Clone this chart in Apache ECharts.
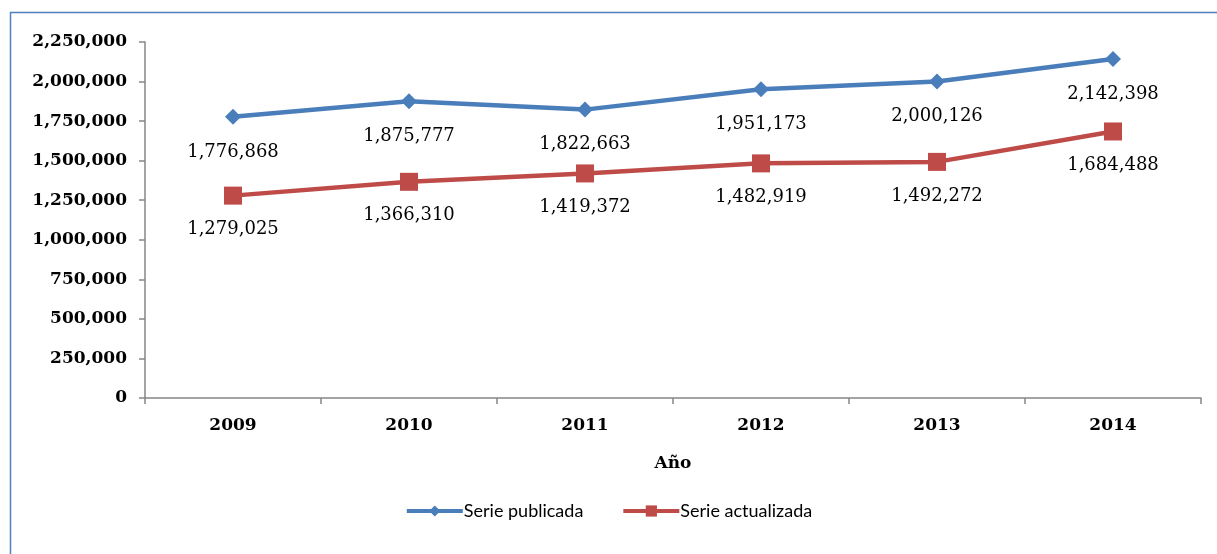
<!DOCTYPE html>
<html>
<head>
<meta charset="utf-8">
<script src="https://cdn.jsdelivr.net/npm/echarts@6/dist/echarts.min.js"></script>
<style>
html,body{margin:0;padding:0;background:#fff;}
#c{width:1217px;height:554px;}
</style>
</head>
<body>
<div id="c"></div>
<script>
const years = ['2009','2010','2011','2012','2013','2014'];
const seriePublicada = [1776868, 1875777, 1822663, 1951173, 2000126, 2142398];
const serieActualizada = [1279025, 1366310, 1419372, 1482919, 1492272, 1684488];
const seriesNames = ['Serie publicada', 'Serie actualizada'];
const axisTitle = 'Año';

const fmt = v => v.toLocaleString('en-US');
const serif = '"DejaVu Serif", "Liberation Serif", serif';

const chart = echarts.init(document.getElementById('c'), null, {renderer: 'canvas'});
chart.setOption({
  animation: false,
  graphic: [{
    type: 'rect',
    shape: {x: 10.5, y: 12.5, width: 1300, height: 700},
    style: {fill: 'none', stroke: '#4F81BD', lineWidth: 1.5},
    silent: true
  }],
  grid: {left: 145, right: 16, top: 42, bottom: 156},
  legend: {
    bottom: 29,
    left: 'center',
    itemWidth: 56,
    itemHeight: 14,
    itemGap: 38,
    textStyle: {fontFamily: 'Lato, "Noto Sans", sans-serif', fontSize: 18, color: '#000', padding: [0,0,0,-4]},
    lineStyle: {width: 4},
    data: seriesNames
  },
  xAxis: {
    type: 'category',
    data: years,
    boundaryGap: true,
    name: axisTitle,
    nameLocation: 'middle',
    nameGap: 57,
    nameTextStyle: {fontFamily: serif, fontWeight: 'bold', fontSize: 17, color: '#000'},
    axisLine: {lineStyle: {color: '#868686', width: 1.5}},
    axisTick: {show: true, alignWithLabel: false, length: 6, lineStyle: {color: '#868686', width: 1.5}},
    axisLabel: {fontFamily: serif, fontWeight: 'bold', fontSize: 17, color: '#000', margin: 19}
  },
  yAxis: {
    type: 'value',
    min: 0,
    max: 2250000,
    interval: 250000,
    axisLine: {show: true, lineStyle: {color: '#868686', width: 1.5}},
    axisTick: {show: true, length: 6, lineStyle: {color: '#868686', width: 1.5}},
    splitLine: {show: false},
    axisLabel: {fontFamily: serif, fontWeight: 'bold', fontSize: 17, color: '#000', margin: 18,
      formatter: v => fmt(v)}
  },
  series: [
    {
      name: seriesNames[0],
      type: 'line',
      data: seriePublicada,
      symbol: 'diamond',
      symbolSize: 16,
      lineStyle: {color: '#4A7EBB', width: 4.5},
      itemStyle: {color: '#4A7EBB'},
      label: {show: true, position: 'bottom', distance: 18, formatter: p => fmt(p.value),
        fontFamily: serif, fontSize: 18, color: '#000'}
    },
    {
      name: seriesNames[1],
      type: 'line',
      data: serieActualizada,
      symbol: 'rect',
      symbolSize: 18,
      lineStyle: {color: '#BE4B48', width: 4.5},
      itemStyle: {color: '#BE4B48'},
      label: {show: true, position: 'bottom', distance: 16, formatter: p => fmt(p.value),
        fontFamily: serif, fontSize: 18, color: '#000'}
    }
  ]
});
</script>
</body>
</html>
